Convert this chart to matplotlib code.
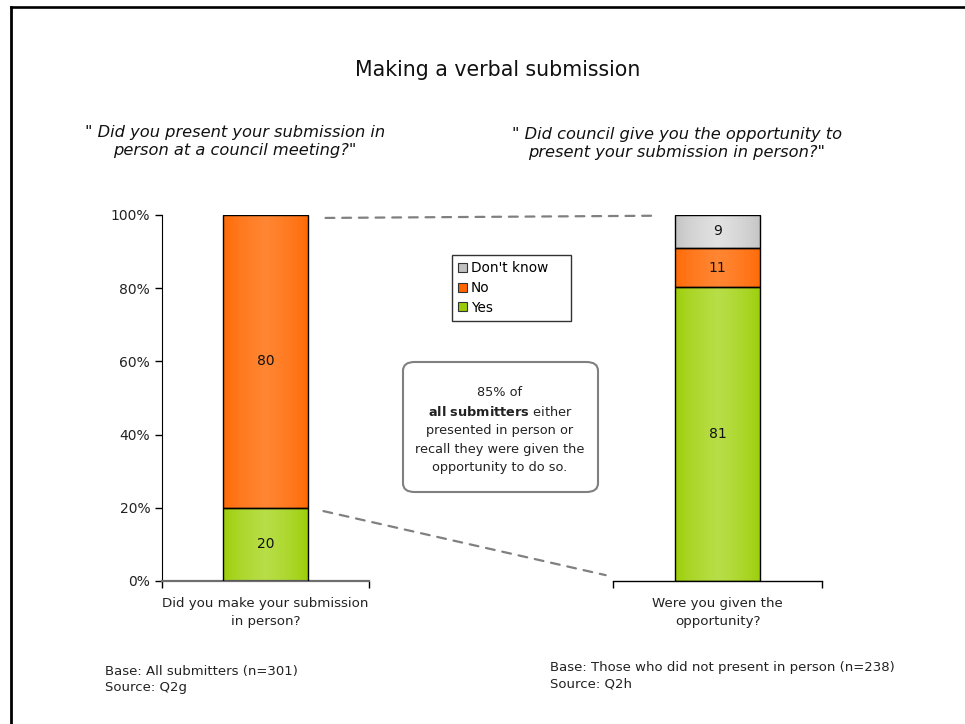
import numpy as np
import matplotlib
matplotlib.use("Agg")
import matplotlib.pyplot as plt
from matplotlib.patches import Patch, FancyBboxPatch, ConnectionPatch
from matplotlib.lines import Line2D
from matplotlib.colors import to_rgb

# ---------------- data ----------------
title = "Making a verbal submission"
left_question = '" Did you present your submission in\nperson at a council meeting?"'
right_question = '" Did council give you the opportunity to\npresent your submission in person?"'

left_category = ["Did you make your submission\nin person?"]
right_category = ["Were you given the\nopportunity?"]

series_names = ["Yes", "No", "Don't know"]
left_values = [20, 80, 0]
right_values = [81, 11, 9]

yticks = [0, 20, 40, 60, 80, 100]
ytick_labels = ["0%", "20%", "40%", "60%", "80%", "100%"]

left_base = "Base: All submitters (n=301)\nSource: Q2g"
right_base = "Base: Those who did not present in person (n=238)\nSource: Q2h"
callout_lines = ["85% of", r"$\bf{all\ submitters}$ either", "presented in person or",
                 "recall they were given the", "opportunity to do so."]

# ---------------- style ----------------
edge_cols = {"Yes": "#99CC00", "No": "#FF6600", "Don't know": "#C0C0C0"}
center_cols = {"Yes": "#B8DE48", "No": "#FF8633", "Don't know": "#E2E2E2"}

plt.rcParams['font.family'] = ['DejaVu Sans']
W, H = 965, 724
fig = plt.figure(figsize=(W / 100, H / 100), dpi=100)

def fx(px):
    return px / W

def fy(py):
    return 1 - py / H

def gradient_fill(ax, bar, name):
    e = np.array(to_rgb(edge_cols[name]))
    c = np.array(to_rgb(center_cols[name]))
    t = np.linspace(0, 1, 200)
    w = np.clip(1 - np.abs(2 * t - 1), 0, 1) ** 0.6
    row = e[None, :] + (c - e)[None, :] * w[:, None]
    img = np.repeat(row[None, :, :], 2, axis=0)
    x0, y0 = bar.get_x(), bar.get_y()
    bw, bh = bar.get_width(), bar.get_height()
    im = ax.imshow(img, extent=[x0, x0 + bw, y0, y0 + bh], aspect='auto',
                   zorder=2, interpolation='bilinear')
    im.set_clip_path(bar)

def draw_panel(ax, values, category, show_y, spine_col):
    total = sum(values)
    shares = [v / total * 100 for v in values]
    bottom = 0
    for name, v, s in zip(series_names, values, shares):
        if v == 0:
            continue
        bars = ax.bar([0], [s], bottom=bottom, width=0.41, color=edge_cols[name],
                      edgecolor='black', linewidth=1.0, zorder=2)
        gradient_fill(ax, bars[0], name)
        bars[0].set_facecolor('none')
        bars[0].set_zorder(3)
        ax.text(0, bottom + s / 2, f"{v}", ha='center', va='center',
                fontsize=10, color='#111111', zorder=4)
        bottom += s
    ax.set_xlim(-0.5, 0.5)
    ax.set_ylim(0, 100)
    ax.set_xticks([-0.5, 0.5])
    ax.set_xticklabels([])
    ax.tick_params(axis='x', direction='out', length=5, width=1, colors='black')
    ax.text(0, -4.5, category[0], ha='center', va='top', fontsize=9.6,
            color='#222222', linespacing=1.5)
    for s in ['top', 'right']:
        ax.spines[s].set_visible(False)
    ax.spines['bottom'].set_color(spine_col)
    ax.spines['bottom'].set_linewidth(1.6 if show_y else 1.0)
    if show_y:
        ax.set_yticks(yticks)
        ax.set_yticklabels(ytick_labels, fontsize=10, color='#222222')
        ax.tick_params(axis='y', direction='out', length=5, width=1)
        ax.spines['left'].set_color('black')
    else:
        ax.spines['left'].set_visible(False)
        ax.set_yticks([])
    ax.set_facecolor('none')

y_top, y_bot = 215, 581
ax1 = fig.add_axes([fx(162), fy(y_bot), fx(369 - 162), (y_bot - y_top) / H])
ax2 = fig.add_axes([fx(613), fy(y_bot), fx(822 - 613), (y_bot - y_top) / H])
draw_panel(ax1, left_values, left_category, True, '#6E6E6E')
draw_panel(ax2, right_values, right_category, False, 'black')

# dashed connector lines
for (xa, ya), (xb, yb) in [((0.29, 99.2), (-0.30, 99.8)), ((0.28, 19.1), (-0.535, 1.6))]:
    con = ConnectionPatch(xyA=(xa, ya), coordsA=ax1.transData,
                          xyB=(xb, yb), coordsB=ax2.transData,
                          color='#808080', linestyle=(0, (4, 3.5)), linewidth=1.6)
    fig.add_artist(con)

# legend
handles = [Patch(facecolor=edge_cols[n], edgecolor='#333333', linewidth=0.8)
           for n in ["Don't know", "No", "Yes"]]
leg = fig.legend(handles, ["Don't know", "No", "Yes"], loc='upper left',
                 bbox_to_anchor=(fx(452), fy(321), fx(571 - 452), (321 - 255) / H),
                 mode='expand', fontsize=9.8, frameon=True,
                 fancybox=False, handlelength=0.65, handleheight=0.65,
                 handletextpad=0.3, labelspacing=0.42, borderpad=0.45,
                 borderaxespad=0)
leg.get_frame().set_edgecolor('black')
leg.get_frame().set_linewidth(1.0)

# callout box
box = FancyBboxPatch((fx(403), fy(492)), fx(598 - 403), (492 - 362) / H,
                     boxstyle="round,pad=0,rounding_size=0.012",
                     transform=fig.transFigure, facecolor='white',
                     edgecolor='#808080', linewidth=1.5)
fig.add_artist(box)
for i, line in enumerate(callout_lines):
    fig.text(fx(500), fy(393 + i * 18.7), line, ha='center', va='center',
             fontsize=9.3, color='#222222')

# titles
fig.text(fx(498), fy(70), title, ha='center', va='center', fontsize=14.8, color='#111111')
fig.text(fx(235), fy(142), left_question, ha='center', va='center', fontsize=11.7,
         style='italic', color='#111111', linespacing=1.25)
fig.text(fx(677), fy(143), right_question, ha='center', va='center', fontsize=11.7,
         style='italic', color='#111111', linespacing=1.25)

# base notes
fig.text(fx(105), fy(679), left_base, ha='left', va='center', fontsize=9.5,
         color='#222222', linespacing=1.3)
fig.text(fx(550), fy(676), right_base, ha='left', va='center', fontsize=9.5,
         color='#222222', linespacing=1.3)

# frame lines (left and top)
fig.add_artist(Line2D([fx(11.3), fx(11.3)], [0, fy(7)], transform=fig.transFigure,
                      color='black', linewidth=2.0, solid_capstyle='projecting'))
fig.add_artist(Line2D([fx(11.3), 1], [fy(7.2), fy(7.2)], transform=fig.transFigure,
                      color='black', linewidth=1.9))

fig.savefig("out.png", dpi=100)
